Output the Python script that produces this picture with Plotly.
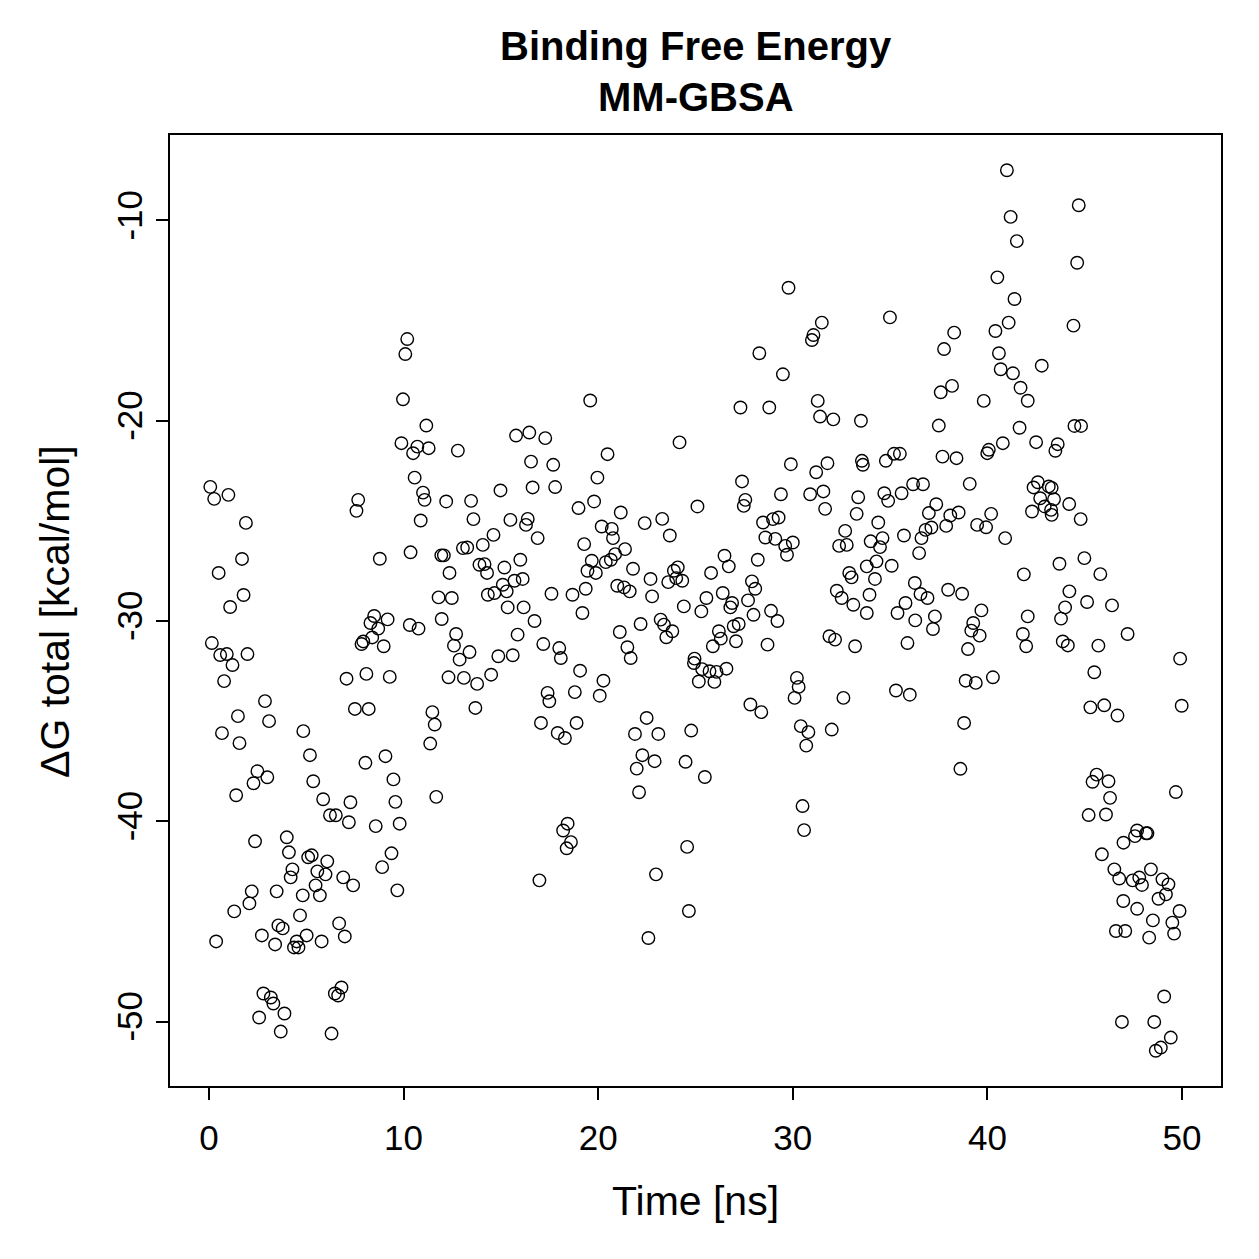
import plotly.graph_objects as go

time_ns = [
    0.07, 0.27, 1.0, 1.9, 1.7, 0.5, 1.78, 1.09, 7.67, 7.58,
    0.15, 0.58, 0.92, 1.98, 1.21, 0.78, 2.88, 1.49, 3.09, 0.67, 1.57, 4.85, 5.19, 2.49, 3.0, 2.29, 1.4, 5.36, 5.87, 7.27,
    6.22, 6.52, 7.19, 2.37, 4.0, 4.11, 5.1, 5.28, 6.08, 4.29, 4.2, 5.57, 5.99, 6.9, 7.41, 2.2, 3.48, 4.82, 5.7, 5.48,
    2.08, 1.3, 4.68, 3.57, 3.79, 6.69, 6.98, 2.72, 3.4, 4.51, 5.02, 5.79, 4.37, 4.6, 0.37, 2.8, 3.18, 3.31, 2.58, 3.88,
    3.69, 6.81, 6.47, 6.64, 6.3, 7.07, 7.5, 7.84, 7.93,
    10.19, 10.09, 9.97, 11.17, 9.89, 10.71, 10.49, 11.29, 12.79, 15.78, 16.46, 16.55, 10.57, 11.0, 11.08, 12.19, 13.47,
    14.98, 16.63, 10.88, 13.59, 15.49, 16.38, 16.29, 14.62, 14.07, 13.27, 13.05, 11.94, 12.07, 10.36, 8.78, 12.36, 13.9,
    14.16, 14.29, 15.18, 16.0, 16.12, 15.7, 11.8, 12.48, 14.33, 14.67, 15.1, 15.3, 15.35, 16.17, 8.49, 9.18, 8.3, 10.32, 11.96,
    8.7, 8.39, 8.98, 10.77, 12.7, 12.59, 13.39, 12.88, 14.87, 15.61, 15.86, 16.73, 8.09, 9.29, 12.31, 13.1, 13.78, 14.5,
    8.21, 11.48, 11.6, 11.37, 13.69, 8.04, 9.07, 9.48, 9.58, 8.57, 9.8, 11.68, 9.38, 8.9, 9.68,
    19.59, 17.28, 24.18, 20.48, 17.69, 19.96, 17.79, 19.79, 18.99, 21.16, 25.1, 20.18, 20.7, 20.76, 23.29, 22.39, 23.68,
    16.89, 19.28, 21.38, 20.87, 19.67, 20.39, 20.65, 19.45, 19.88, 21.79, 22.69, 24.09, 23.89, 24.01, 23.6, 24.32, 20.98,
    21.33, 21.62, 19.36, 18.68, 17.6, 22.77, 24.4, 19.19, 22.18, 23.21, 25.3,
    21.11, 23.38, 23.81, 23.5, 17.18, 18.0, 18.08, 21.5, 21.67, 19.07, 20.27, 20.08, 17.4, 17.49, 18.8, 24.95, 24.92, 25.17,
    17.06, 17.92, 18.29, 18.89, 22.49, 21.89, 23.09, 22.27, 22.9, 21.98, 24.49, 24.78, 25.48, 22.1, 18.43, 18.2, 18.6,
    18.38, 16.98, 24.57, 22.97, 24.66, 22.58,
    29.78, 31.49, 31.06, 30.98, 28.28, 29.49, 31.28, 31.4, 32.08, 27.31, 28.79, 33.5, 29.9, 31.2, 31.78, 33.55, 33.6,
    27.39, 27.56, 27.48, 29.39, 30.89, 31.57, 31.66, 33.36, 33.28, 28.47, 28.98, 29.27, 28.59, 29.1, 29.61, 30.0, 29.7,
    32.69, 32.38, 32.77, 26.49, 26.71, 25.8, 28.2, 32.9, 33.02, 27.9, 28.07, 25.56, 26.4, 27.7, 26.88, 26.79, 27.98,
    28.88, 32.26, 32.51, 33.11, 29.21, 33.8,
    26.2, 26.96, 27.22, 26.3, 25.89, 27.08, 28.7, 31.88, 32.17, 33.2, 25.34, 25.72, 26.08, 26.59, 25.97, 30.21, 30.3,
    30.09, 32.6, 27.82, 28.38, 30.41, 30.8, 30.69, 32.0, 30.5, 30.58,
    41.0, 41.19, 41.51, 40.51, 41.39, 34.99, 41.09, 40.41, 38.29, 37.77, 40.59, 40.68, 41.31, 41.7, 42.07, 38.18, 37.6,
    39.81, 37.5, 41.65, 34.78, 35.2, 35.5, 37.69, 38.41, 39.99, 40.07, 40.79, 36.18, 36.69, 39.09, 35.59, 34.7, 34.9,
    37.37, 36.99, 38.09, 38.52, 40.19, 37.88, 39.47, 39.93, 37.12, 36.82, 34.39, 40.91, 34.0, 34.61, 34.48, 35.71, 36.61,
    36.49, 34.3, 33.8, 35.08, 34.22, 41.87, 36.27, 36.56, 36.92, 37.98, 38.7, 33.94, 35.79, 35.38, 36.29, 37.3, 39.69,
    39.27, 42.07,
    37.2, 39.17, 39.6, 39.0, 35.89, 41.82, 41.99, 35.3, 36.01, 38.88, 39.4, 40.28, 38.8, 38.61,
    44.69, 44.61, 44.42, 42.79, 44.47, 44.81, 42.5, 43.61, 43.49, 42.37, 42.59, 43.15, 43.3, 42.71, 43.42, 42.94, 43.27,
    43.3, 42.29, 44.2, 44.79, 43.7, 44.98, 45.8, 44.21, 45.12, 46.4, 43.99, 43.78,
    43.87, 44.13, 45.7, 47.2, 49.9, 45.49, 49.98, 45.29, 46.0, 46.68, 45.61, 45.4, 46.22, 46.3, 45.2, 46.09, 49.68,
    47.69, 48.15, 48.22, 47.58, 46.99, 45.88, 46.52, 46.77, 47.46, 47.8, 47.94, 48.4, 48.99, 49.3, 48.79, 49.17, 46.98,
    47.69, 49.87, 48.5, 49.5, 49.59, 46.6, 47.08, 48.31, 49.08, 46.91, 48.57, 49.42, 48.91, 48.65,
]

delta_g = [
    -23.3, -23.9, -23.7, -25.1, -26.9, -27.6, -28.7, -29.3, -23.95, -24.5,
    -31.1, -31.7, -31.65, -31.65, -32.2, -33.0, -34.0, -34.75, -35.0, -35.6, -36.1, -35.5, -36.7, -37.5, -37.8, -38.1, -38.7, -38.0, -38.9, -39.05,
    -39.7, -39.7, -40.05, -41.0, -40.8, -41.55, -41.8, -41.7, -42.0, -42.4, -42.8, -42.5, -42.65, -42.8, -43.2, -43.5, -43.5, -43.7, -43.7, -43.2,
    -44.1, -44.5, -44.7, -45.2, -45.35, -45.1, -45.75, -45.7, -46.15, -46.0, -45.7, -46.0, -46.3, -46.3, -46.0, -48.6, -48.8, -49.1, -49.8, -49.6,
    -50.5, -48.3, -48.6, -48.7, -50.6, -32.88, -34.39, -31.15, -31.02,
    -15.92, -16.67, -18.93, -20.24, -21.12, -21.29, -21.62, -21.37, -21.49, -20.74, -20.59, -22.04, -22.84, -23.59, -23.95, -24.03, -24.0,
    -23.48, -23.33, -24.98, -24.91, -24.95, -24.9, -25.2, -25.7, -26.2, -26.33, -26.36, -26.72, -26.72, -26.57, -26.89, -27.6, -27.19,
    -27.16, -27.6, -27.33, -26.94, -27.9, -27.99, -28.82, -28.85, -28.69, -28.6, -28.19, -28.52, -29.32, -29.32, -29.75, -29.92, -30.1, -30.2, -29.9,
    -30.38, -30.82, -31.26, -30.38, -30.65, -31.23, -31.55, -31.93, -31.76, -31.71, -30.68, -30.0, -32.64, -32.79, -32.81, -32.84, -33.14, -32.68,
    -34.39, -34.55, -35.17, -36.12, -34.34, -37.08, -36.75, -37.91, -39.03, -40.24, -40.12, -38.78, -41.6, -42.29, -43.45,
    -18.99, -20.87, -21.08, -21.67, -22.2, -22.84, -23.31, -24.03, -24.36, -24.58, -24.28, -25.28, -25.4, -25.86, -24.9, -25.11, -25.73,
    -25.86, -26.16, -26.41, -26.66, -26.99, -27.06, -26.94, -27.49, -27.6, -27.39, -27.9, -27.32, -27.49, -27.86, -28.06, -27.99, -28.24,
    -28.32, -28.52, -28.39, -28.69, -28.64, -28.77, -29.27, -29.6, -30.15, -29.93, -29.52,
    -30.55, -30.18, -30.51, -30.81, -31.15, -31.35, -31.85, -31.31, -31.85, -32.48, -32.98, -33.73, -33.59, -34.01, -33.55, -31.88, -32.1, -33.02,
    -35.09, -35.59, -35.84, -35.09, -34.84, -35.64, -35.64, -36.7, -37.0, -37.37, -37.03, -35.47, -37.79, -38.55, -40.12, -40.46, -41.04,
    -41.35, -42.95, -41.28, -42.65, -44.48, -45.83,
    -13.36, -15.1, -15.72, -15.97, -16.63, -17.68, -19.01, -19.79, -19.93, -19.34, -19.34, -20.0, -22.17, -22.57, -22.12, -22.0, -22.2,
    -23.03, -23.95, -24.25, -23.67, -23.67, -23.53, -24.4, -23.82, -24.65, -25.08, -24.91, -24.83, -25.83, -25.9, -26.25, -26.08, -26.69,
    -25.5, -26.25, -26.2, -26.74, -27.27, -27.6, -26.94, -27.6, -27.82, -28.02, -28.39, -28.85, -28.6, -28.97, -29.1, -29.32, -29.69,
    -29.49, -28.49, -28.85, -29.19, -30.0, -29.6,
    -30.51, -30.26, -30.15, -30.88, -31.26, -31.01, -31.18, -30.76, -30.93, -31.26, -32.4, -32.51, -32.54, -32.38, -33.04, -32.84, -33.29,
    -33.84, -33.84, -34.17, -34.55, -35.25, -35.55, -36.22, -35.42, -39.24, -40.44,
    -7.49, -9.82, -11.03, -12.84, -13.92, -14.84, -15.1, -15.52, -15.6, -16.42, -16.63, -17.43, -17.63, -18.35, -19.0, -18.26, -18.58,
    -19.01, -20.24, -20.35, -22.0, -21.65, -21.65, -21.79, -21.87, -21.62, -21.45, -21.12, -23.17, -23.17, -23.15, -23.62, -23.62, -24.0,
    -24.17, -24.61, -24.73, -24.58, -24.65, -25.25, -25.2, -25.32, -25.33, -25.45, -25.08, -25.86, -26.02, -25.86, -26.31, -25.73, -25.86,
    -26.61, -27.02, -27.27, -27.24, -27.9, -27.67, -28.1, -28.65, -28.85, -28.44, -28.64, -28.69, -29.1, -29.6, -29.97, -29.77, -29.47,
    -30.1, -29.77,
    -30.4, -30.48, -30.73, -31.4, -31.1, -30.65, -31.26, -33.47, -33.68, -32.98, -33.09, -32.81, -35.09, -37.38,
    -9.24, -12.11, -15.25, -17.25, -20.26, -20.26, -21.07, -21.17, -21.5, -23.33, -23.07, -23.28, -23.35, -23.87, -23.92, -24.28, -24.45,
    -24.7, -24.53, -24.16, -24.91, -27.14, -26.86, -27.66, -28.52, -29.05, -29.22, -29.32, -29.88,
    -31.02, -31.22, -31.23, -30.65, -31.88, -32.56, -34.23, -34.31, -34.21, -34.72, -37.67, -38.03, -38.0, -38.83, -39.69, -39.66, -38.54,
    -40.46, -40.6, -40.6, -40.74, -41.07, -41.65, -42.4, -42.86, -42.95, -42.81, -43.18, -42.4, -42.9, -43.15, -43.87, -43.65, -43.98,
    -44.37, -44.48, -44.95, -45.06, -45.61, -45.48, -45.48, -45.81, -48.75, -50.02, -50.02, -50.8, -51.3, -51.46,
]

x_ticks = [0, 10, 20, 30, 40, 50]
y_ticks = [-10, -20, -30, -40, -50]

title_lines = ["Binding Free Energy", "MM-GBSA"]
x_label = "Time [ns]"
y_label = "ΔG total [kcal/mol]"

FONT = "Liberation Sans, Arial, Helvetica, sans-serif"

ymin, ymax = min(delta_g), max(delta_g)
pad = 0.04 * (ymax - ymin)

fig = go.Figure(
    go.Scatter(
        x=time_ns,
        y=delta_g,
        mode="markers",
        marker=dict(symbol="circle-open", size=12.5, color="black", line=dict(width=1.4, color="black")),
        hoverinfo="x+y",
    )
)

axis_common = dict(
    showline=True, linecolor="black", linewidth=2, mirror=True,
    ticks="outside", ticklen=12, tickwidth=1.6, tickcolor="black",
    showgrid=False, zeroline=False,
    tickfont=dict(family=FONT, size=35, color="black"),
)

fig.update_xaxes(
    range=[-2, 52], tickvals=x_ticks, ticktext=[str(v) for v in x_ticks],
    ticklabelstandoff=8,
    **axis_common,
)
fig.update_yaxes(
    range=[ymin - pad, ymax + pad], tickvals=y_ticks, ticktext=[str(v) for v in y_ticks],
    tickangle=-90,
    **axis_common,
)

# plot area in pixels: x 170..1221, y 135..1086
def py_to_paper(py):
    return (1086 - py) / 951.0

def px_to_paper(px):
    return (px - 170) / 1051.0

annotations = [
    dict(text=f"<b>{title_lines[0]}</b>", x=0.5, y=py_to_paper(46), xref="paper", yref="paper",
         xanchor="center", yanchor="middle", showarrow=False,
         font=dict(family=FONT, size=40, color="black")),
    dict(text=f"<b>{title_lines[1]}</b>", x=0.5, y=py_to_paper(97), xref="paper", yref="paper",
         xanchor="center", yanchor="middle", showarrow=False,
         font=dict(family=FONT, size=40, color="black")),
    dict(text=x_label, x=0.5, y=py_to_paper(1201), xref="paper", yref="paper",
         xanchor="center", yanchor="middle", showarrow=False,
         font=dict(family=FONT, size=41, color="black")),
    dict(text=y_label, x=px_to_paper(55), y=py_to_paper(612), xref="paper", yref="paper",
         xanchor="center", yanchor="middle", showarrow=False, textangle=-90,
         font=dict(family=FONT, size=41, color="black")),
]

fig.update_layout(
    width=1259, height=1259,
    margin=dict(l=170, r=38, t=135, b=173),
    paper_bgcolor="white", plot_bgcolor="white",
    showlegend=False,
    annotations=annotations,
)

fig.write_html("out.html")
